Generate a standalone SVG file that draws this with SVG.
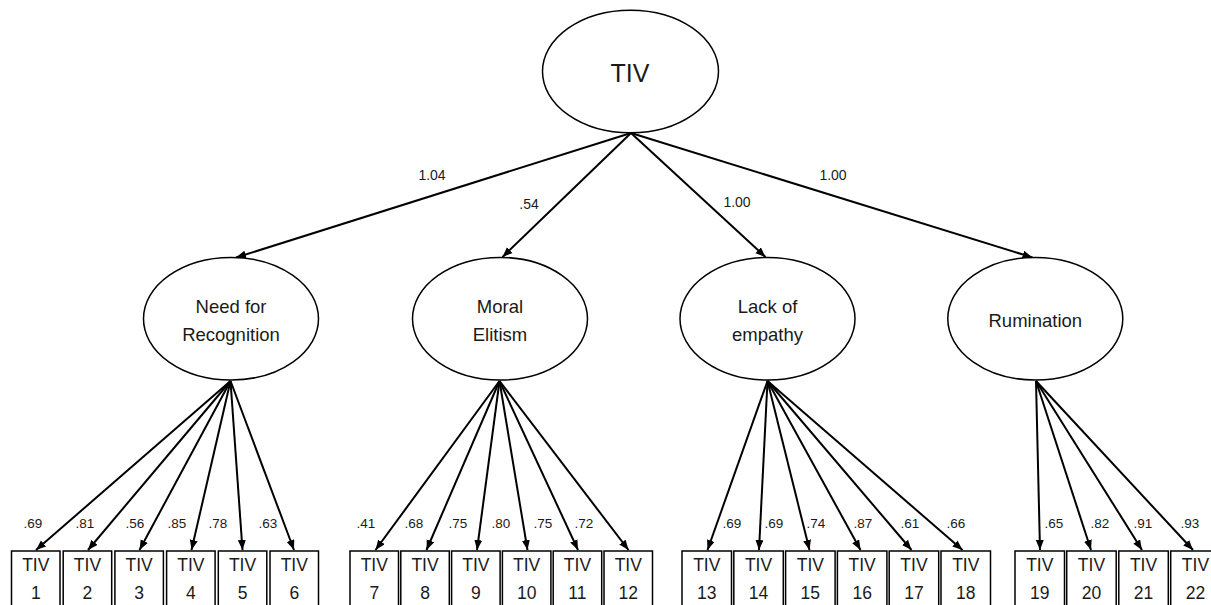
<svg xmlns="http://www.w3.org/2000/svg" width="1211" height="605" viewBox="0 0 1211 605">
<style>
  .bg{fill:#fff}
  .ell{fill:#fff;stroke:#000;stroke-width:1.5}
  .box{fill:#fff;stroke:#000;stroke-width:1.5}
  .con line{stroke:#000;stroke-width:2;marker-end:url(#ah)}
  text{font-family:"Liberation Sans",Arial,sans-serif;fill:#1a1a1a;text-anchor:middle}
  .top{font-size:25px}
  .mid{font-size:18.5px}
  .bx{font-size:17.5px}
  .ld{font-size:14px}
  .ls{font-size:13.5px}
</style>
<defs>
  <marker id="ah" markerUnits="userSpaceOnUse" markerWidth="11" markerHeight="9" refX="10" refY="4" orient="auto">
    <path d="M0,0 L10,4 L0,8 z" fill="#000"/>
  </marker>
</defs>
<rect class="bg" width="1211" height="605"/>

<g id="connectors" class="con">
  <line x1="631" y1="133" x2="236" y2="257.5"/>
  <line x1="631" y1="133" x2="502.5" y2="257"/>
  <line x1="631" y1="133" x2="765.5" y2="257"/>
  <line x1="631" y1="133" x2="1032.5" y2="257.5"/>

  <line x1="230.5" y1="381" x2="36" y2="550"/>
  <line x1="230.5" y1="381" x2="88" y2="550"/>
  <line x1="230.5" y1="381" x2="139.5" y2="550"/>
  <line x1="230.5" y1="381" x2="191.5" y2="550"/>
  <line x1="230.5" y1="381" x2="242.5" y2="550"/>
  <line x1="230.5" y1="381" x2="294" y2="550"/>

  <line x1="499.5" y1="381" x2="375.5" y2="550"/>
  <line x1="499.5" y1="381" x2="426.5" y2="550"/>
  <line x1="499.5" y1="381" x2="477" y2="550"/>
  <line x1="499.5" y1="381" x2="527.5" y2="550"/>
  <line x1="499.5" y1="381" x2="578" y2="550"/>
  <line x1="499.5" y1="381" x2="628.5" y2="550"/>

  <line x1="767.5" y1="381" x2="707.5" y2="550"/>
  <line x1="767.5" y1="381" x2="759" y2="550"/>
  <line x1="767.5" y1="381" x2="809.5" y2="550"/>
  <line x1="767.5" y1="381" x2="860.5" y2="550"/>
  <line x1="767.5" y1="381" x2="911.5" y2="550"/>
  <line x1="767.5" y1="381" x2="962.5" y2="550"/>

  <line x1="1036" y1="381" x2="1040" y2="550"/>
  <line x1="1036" y1="381" x2="1091" y2="550"/>
  <line x1="1036" y1="381" x2="1142" y2="550"/>
  <line x1="1036" y1="381" x2="1193" y2="550"/>
</g>

<g id="loadings">
  <text class="ld" x="432" y="180">1.04</text>
  <text class="ld" x="529" y="209">.54</text>
  <text class="ld" x="737" y="207">1.00</text>
  <text class="ld" x="833" y="180">1.00</text>

  <text class="ls" x="33" y="528">.69</text>
  <text class="ls" x="85" y="528">.81</text>
  <text class="ls" x="135" y="528">.56</text>
  <text class="ls" x="177" y="528">.85</text>
  <text class="ls" x="218" y="528">.78</text>
  <text class="ls" x="268" y="528">.63</text>

  <text class="ls" x="366" y="528">.41</text>
  <text class="ls" x="414" y="528">.68</text>
  <text class="ls" x="458" y="528">.75</text>
  <text class="ls" x="501" y="528">.80</text>
  <text class="ls" x="543" y="528">.75</text>
  <text class="ls" x="584" y="528">.72</text>

  <text class="ls" x="732" y="528">.69</text>
  <text class="ls" x="774" y="528">.69</text>
  <text class="ls" x="816" y="528">.74</text>
  <text class="ls" x="863" y="528">.87</text>
  <text class="ls" x="910" y="528">.61</text>
  <text class="ls" x="956" y="528">.66</text>

  <text class="ls" x="1054" y="528">.65</text>
  <text class="ls" x="1100" y="528">.82</text>
  <text class="ls" x="1143" y="528">.91</text>
  <text class="ls" x="1190" y="528">.93</text>
</g>

<g id="tiv">
  <ellipse class="ell" cx="630.5" cy="71.5" rx="88" ry="61.3"/>
  <text class="top" x="630" y="82">TIV</text>
</g>

<g id="need-for-recognition">
  <ellipse class="ell" cx="231" cy="318.7" rx="87.5" ry="61.3"/>
  <text class="mid" x="231" y="313">Need for</text>
  <text class="mid" x="231" y="341">Recognition</text>
</g>
<g id="moral-elitism">
  <ellipse class="ell" cx="500" cy="318.7" rx="87.5" ry="61.3"/>
  <text class="mid" x="500" y="313">Moral</text>
  <text class="mid" x="500" y="341">Elitism</text>
</g>
<g id="lack-of-empathy">
  <ellipse class="ell" cx="767.5" cy="318.7" rx="87.5" ry="61.3"/>
  <text class="mid" x="767.5" y="313">Lack of</text>
  <text class="mid" x="767.5" y="341">empathy</text>
</g>
<g id="rumination">
  <ellipse class="ell" cx="1035.3" cy="318.7" rx="87.5" ry="61.3"/>
  <text class="mid" x="1035.3" y="327">Rumination</text>
</g>

<g id="item-1"><rect class="box" x="11.5" y="551" width="48.5" height="60"/><text class="bx" x="35.75" y="571">TIV</text><text class="bx" x="35.75" y="599">1</text></g>
<g id="item-2"><rect class="box" x="63.2" y="551" width="48.5" height="60"/><text class="bx" x="87.45" y="571">TIV</text><text class="bx" x="87.45" y="599">2</text></g>
<g id="item-3"><rect class="box" x="114.9" y="551" width="48.5" height="60"/><text class="bx" x="139.15" y="571">TIV</text><text class="bx" x="139.15" y="599">3</text></g>
<g id="item-4"><rect class="box" x="166.6" y="551" width="48.5" height="60"/><text class="bx" x="190.85" y="571">TIV</text><text class="bx" x="190.85" y="599">4</text></g>
<g id="item-5"><rect class="box" x="218.3" y="551" width="48.5" height="60"/><text class="bx" x="242.55" y="571">TIV</text><text class="bx" x="242.55" y="599">5</text></g>
<g id="item-6"><rect class="box" x="270" y="551" width="48.5" height="60"/><text class="bx" x="294.25" y="571">TIV</text><text class="bx" x="294.25" y="599">6</text></g>

<g id="item-7"><rect class="box" x="350" y="551" width="48.5" height="60"/><text class="bx" x="374.25" y="571">TIV</text><text class="bx" x="374.25" y="599">7</text></g>
<g id="item-8"><rect class="box" x="400.8" y="551" width="48.5" height="60"/><text class="bx" x="425.05" y="571">TIV</text><text class="bx" x="425.05" y="599">8</text></g>
<g id="item-9"><rect class="box" x="451.6" y="551" width="48.5" height="60"/><text class="bx" x="475.85" y="571">TIV</text><text class="bx" x="475.85" y="599">9</text></g>
<g id="item-10"><rect class="box" x="502.4" y="551" width="48.5" height="60"/><text class="bx" x="526.65" y="571">TIV</text><text class="bx" x="526.65" y="599">10</text></g>
<g id="item-11"><rect class="box" x="553.2" y="551" width="48.5" height="60"/><text class="bx" x="577.45" y="571">TIV</text><text class="bx" x="577.45" y="599">11</text></g>
<g id="item-12"><rect class="box" x="604" y="551" width="48.5" height="60"/><text class="bx" x="628.25" y="571">TIV</text><text class="bx" x="628.25" y="599">12</text></g>

<g id="item-13"><rect class="box" x="682" y="551" width="49.5" height="60"/><text class="bx" x="706.75" y="571">TIV</text><text class="bx" x="706.75" y="599">13</text></g>
<g id="item-14"><rect class="box" x="733.8" y="551" width="49.5" height="60"/><text class="bx" x="758.55" y="571">TIV</text><text class="bx" x="758.55" y="599">14</text></g>
<g id="item-15"><rect class="box" x="785.6" y="551" width="49.5" height="60"/><text class="bx" x="810.35" y="571">TIV</text><text class="bx" x="810.35" y="599">15</text></g>
<g id="item-16"><rect class="box" x="837.4" y="551" width="49.5" height="60"/><text class="bx" x="862.15" y="571">TIV</text><text class="bx" x="862.15" y="599">16</text></g>
<g id="item-17"><rect class="box" x="889.2" y="551" width="49.5" height="60"/><text class="bx" x="913.95" y="571">TIV</text><text class="bx" x="913.95" y="599">17</text></g>
<g id="item-18"><rect class="box" x="941" y="551" width="49.5" height="60"/><text class="bx" x="965.75" y="571">TIV</text><text class="bx" x="965.75" y="599">18</text></g>

<g id="item-19"><rect class="box" x="1015" y="551" width="49.5" height="60"/><text class="bx" x="1039.75" y="571">TIV</text><text class="bx" x="1039.75" y="599">19</text></g>
<g id="item-20"><rect class="box" x="1066.7" y="551" width="49.5" height="60"/><text class="bx" x="1091.45" y="571">TIV</text><text class="bx" x="1091.45" y="599">20</text></g>
<g id="item-21"><rect class="box" x="1118.8" y="551" width="49.5" height="60"/><text class="bx" x="1143.55" y="571">TIV</text><text class="bx" x="1143.55" y="599">21</text></g>
<g id="item-22"><rect class="box" x="1170.7" y="551" width="49.5" height="60"/><text class="bx" x="1195.45" y="571">TIV</text><text class="bx" x="1195.45" y="599">22</text></g>
</svg>
